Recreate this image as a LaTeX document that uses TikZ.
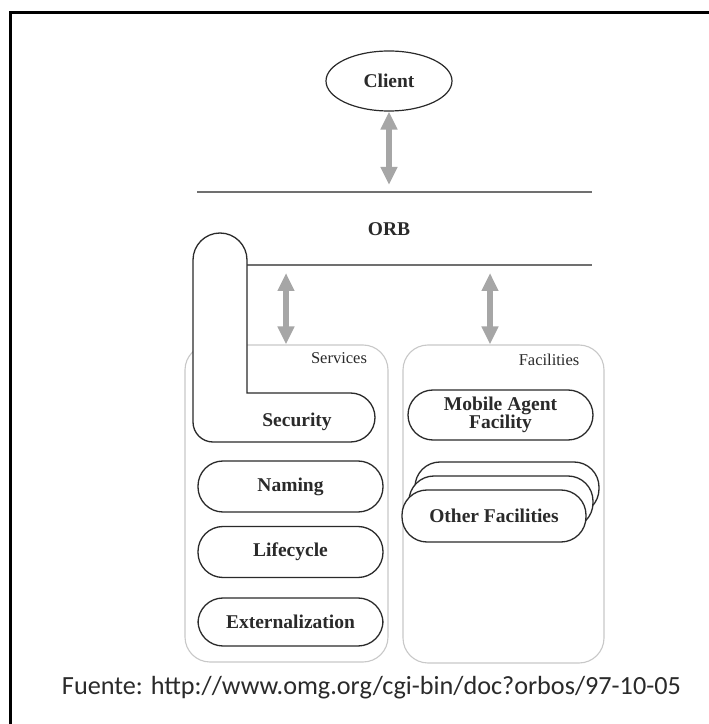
\documentclass[tikz,border=0pt]{standalone}
\usepackage{fontspec}
\setmainfont{Liberation Serif}
\newfontfamily\fuentefont{Carlito}
\usetikzlibrary{arrows.meta,shapes.geometric}
\definecolor{arrowgray}{HTML}{A6A6A6}
\definecolor{linegray}{HTML}{707070}
\definecolor{boxgray}{HTML}{C8C8C8}
\definecolor{ink}{HTML}{2A2A2A}
\tikzset{
  pill/.style={draw=ink, line width=1.3pt, rounded corners=25pt, fill=white,
    minimum width=185pt, minimum height=51pt, inner sep=0pt,
    font=\fontsize{19.5}{19.5}\selectfont\bfseries, text=ink, align=center},
  groupbox/.style={draw=boxgray, line width=1.1pt, rounded corners=25pt},
  orbline/.style={draw=linegray, line width=2pt},
  dblarrow/.style={draw=arrowgray, line width=6pt,
    {Triangle[width=16pt,length=18pt]}-{Triangle[width=16pt,length=18pt]}},
  grouplabel/.style={font=\fontsize{16.5}{18}\selectfont, text=ink, inner sep=0pt}
}
\begin{document}
\begin{tikzpicture}[x=1pt,y=1pt]
\useasboundingbox (0,0) rectangle (709,724);
\fill[white] (0,0) rectangle (709,724);
\begin{scope}
  \clip (0,0) rectangle (709,724);
  \draw[line width=3pt] (10,-30) rectangle (760,711);
\end{scope}

% Client
\node[ellipse, draw=ink, line width=1.2pt, minimum width=126pt, minimum height=60pt,
  inner sep=0pt, font=\fontsize{19.5}{19.5}\selectfont\bfseries, text=ink] (client) at (389,643) {Client};

% ORB lines
\coordinate (orbL1) at (197,532);
\coordinate (orbR1) at (592,532);
\coordinate (orbL2) at (247,459);
\coordinate (orbR2) at (592,459);
\draw[orbline] (orbL1) -- (orbR1);
\draw[orbline] (orbL2) -- (orbR2);
\node[font=\fontsize{19.5}{19.5}\selectfont\bfseries, text=ink] (orb) at (389,495) {ORB};

% group boxes
\node[groupbox, minimum width=203pt, minimum height=317pt, inner sep=0pt] (services) at (286.5,220.5) {};
\node[groupbox, minimum width=201pt, minimum height=318pt, inner sep=0pt] (facilities) at (503.5,220) {};
\node[grouplabel] (servlabel) at (339,366) {Services};
\node[grouplabel] (faclabel) at (549,364) {Facilities};

% Security L-shape
\draw[draw=ink, line width=1.3pt, fill=white]
  (247,331) -- (247,464) arc[start angle=0, end angle=180, radius=27pt]
  -- (193,302) arc[start angle=180, end angle=270, radius=20pt]
  -- (350.5,282) arc[start angle=-90, end angle=90, radius=24.5pt]
  -- cycle;
\node[font=\fontsize{19.5}{19.5}\selectfont\bfseries, text=ink] (security) at (297,302) {Security};

% arrows
\coordinate (cliOrb) at (389,539);
\coordinate (srvTop) at (286,451);
\coordinate (facTop) at (490,451);
\draw[dblarrow] (client.south) -- (cliOrb);
\draw[dblarrow] (srvTop) -- (srvTop |- services.north);
\draw[dblarrow] (facTop) -- (facTop |- facilities.north);

% services
\node[pill] (naming) at (290.5,237.5) {Naming};
\node[pill] (lifecycle) at (290.5,172) {Lifecycle};
\node[pill, minimum height=48pt] (extern) at (290.5,102) {Externalization};

% facilities
\node[pill, minimum height=50pt, font=\fontsize{19.5}{18.5}\selectfont\bfseries] (mobile) at (500.5,309) {Mobile Agent\\Facility};
\node[pill, minimum width=184pt, minimum height=52pt] (otherC) at (507,236) {};
\node[pill, minimum width=184pt, minimum height=52pt] (otherB) at (501,222) {};
\node[pill, minimum width=184pt, minimum height=52pt] (otherA) at (494,208) {Other Facilities};

% source
\node[font=\fuentefont\fontsize{26.2}{30}\selectfont, text=ink, inner sep=0pt] (fuente) at (371.5,36) {Fuente: http://www.omg.org/cgi-bin/doc?orbos/97-10-05};
\end{tikzpicture}
\end{document}
